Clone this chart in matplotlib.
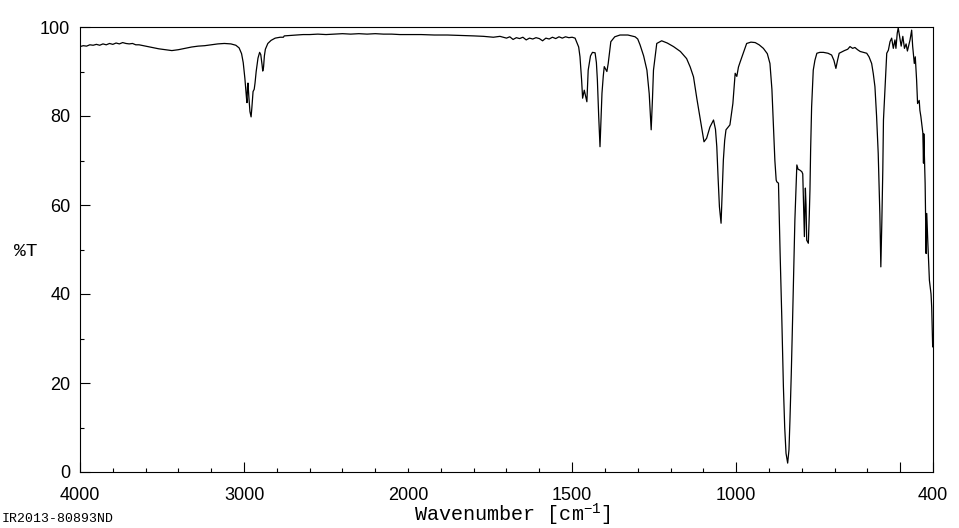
import numpy as np
from matplotlib import pyplot as plt

# IR spectrum, values
# 4000-2000 cm-1 part
wn_high = [
    4000, 3980, 3960, 3940, 3920, 3900, 3880, 3860, 3840, 3820,
    3800, 3780, 3760, 3740, 3720, 3700, 3680, 3660, 3640, 3600,
    3560, 3520, 3480, 3440, 3400, 3360, 3320, 3280, 3240, 3200,
    3160, 3120, 3080, 3050, 3030, 3015, 3005, 2995, 2985, 2982,
    2979, 2976, 2971, 2964, 2957, 2952, 2945, 2938, 2933, 2926,
    2915, 2905, 2898, 2890, 2886, 2881, 2876, 2870, 2855, 2835,
    2810, 2780, 2760, 2755, 2720, 2680, 2640, 2600, 2550, 2500,
    2450, 2400, 2350, 2300, 2250, 2200, 2150, 2100, 2050, 2000,
]
t_high = [
    95.6, 95.8, 95.7, 96.0, 95.9, 96.1, 95.9, 96.2, 96.0, 96.3,
    96.1, 96.4, 96.2, 96.5, 96.3, 96.2, 96.3, 96.0, 96.0, 95.7,
    95.4, 95.1, 94.9, 94.7, 94.9, 95.2, 95.5, 95.7, 95.8, 96.0,
    96.2, 96.3, 96.2, 95.9, 95.3, 94.0, 92.0, 88.5, 84.0, 83.0,
    86.5, 87.4, 84.5, 81.0, 79.8, 82.0, 85.5, 86.0, 87.4, 90.0,
    93.0, 94.3, 93.8, 91.5, 90.1, 91.0, 93.5, 95.0, 96.3, 97.0,
    97.5, 97.7, 97.7, 98.0, 98.1, 98.2, 98.3, 98.3, 98.4, 98.3,
    98.4, 98.5, 98.4, 98.5, 98.4, 98.5, 98.4, 98.4, 98.3, 98.3,
]

# 2000-400 cm-1 part
wn_low = [
    1960, 1920, 1880, 1840, 1800, 1770, 1740, 1720, 1700, 1690,
    1680, 1670, 1660, 1650, 1640, 1630, 1620, 1610, 1600, 1590,
    1580, 1570, 1560, 1550, 1540, 1530, 1520, 1510, 1500, 1491,
    1480, 1476, 1471, 1468, 1463, 1459, 1455, 1451, 1444, 1438,
    1430, 1426, 1423, 1419, 1415, 1412, 1409, 1405, 1402, 1394,
    1390, 1382, 1370, 1354, 1330, 1308, 1300, 1293, 1282, 1272,
    1265, 1259, 1255, 1252, 1242, 1227, 1210, 1191, 1170, 1151,
    1140, 1130, 1120, 1110, 1098, 1090, 1080, 1069, 1063, 1059,
    1055, 1051, 1046, 1042, 1039, 1035, 1031, 1019, 1010, 1003,
    998, 993, 988, 968, 955, 942, 930, 917, 905, 897,
    891, 887, 882, 878, 876, 871, 866, 861, 856, 852,
    848, 843, 839, 836, 832, 828, 821, 817, 815, 811,
    807, 800, 797, 794, 792, 789, 787, 785, 780, 777,
    775, 773, 770, 765, 760, 754, 745, 734, 720, 709,
    702, 696, 691, 686, 670, 660, 653, 645, 638, 630,
    622, 612, 602, 595, 587, 582, 577, 572, 567, 562,
    559, 556, 553, 551, 546, 541, 536, 531, 526, 521,
    516, 513, 509, 506, 501, 497, 492, 487, 482, 478,
    470, 465, 462, 457, 454, 450, 447, 442, 440, 437,
    431, 429, 428, 424, 421, 419, 416, 411, 406, 404,
    401, 400,
]
t_low = [
    98.3, 98.2, 98.2, 98.1, 98.0, 97.9, 97.7, 97.9, 97.5, 97.8,
    97.2, 97.6, 97.4, 97.7, 97.1, 97.5, 97.3, 97.6, 97.4, 96.9,
    97.5, 97.3, 97.7, 97.4, 97.8, 97.5, 97.8, 97.6, 97.7, 97.5,
    95.5, 93.3, 88.0, 84.0, 85.8, 84.5, 83.2, 90.3, 93.5, 94.3,
    94.2, 92.0, 88.1, 80.0, 73.1, 79.0, 85.1, 89.0, 91.1, 90.0,
    91.8, 96.7, 97.8, 98.2, 98.2, 97.8, 97.3, 96.0, 93.5, 90.3,
    85.0, 76.9, 84.0, 90.3, 96.3, 96.9, 96.4, 95.6, 94.5, 92.9,
    91.0, 88.8, 84.0, 79.6, 74.2, 75.0, 77.5, 79.1, 77.0, 73.1,
    66.0, 59.6, 55.9, 64.0, 70.1, 74.5, 76.9, 78.0, 82.8, 89.6,
    88.9, 91.0, 92.1, 96.3, 96.6, 96.5, 96.0, 95.2, 94.0, 91.8,
    86.0, 79.1, 70.0, 65.6, 65.2, 64.9, 49.1, 35.0, 19.2, 10.0,
    4.2, 2.0, 5.0, 11.7, 22.0, 34.2, 56.6, 65.0, 69.0, 68.0,
    67.9, 67.5, 67.0, 58.0, 52.9, 63.8, 60.0, 52.1, 51.4, 58.0,
    63.5, 72.4, 82.0, 90.3, 92.5, 94.1, 94.3, 94.3, 94.1, 93.7,
    92.5, 90.7, 92.5, 94.1, 94.7, 95.0, 95.6, 95.2, 95.4, 94.9,
    94.5, 94.3, 94.1, 93.3, 91.8, 89.5, 86.6, 80.0, 71.6, 58.0,
    46.1, 56.0, 67.9, 79.1, 86.6, 94.1, 94.8, 96.7, 97.5, 95.2,
    97.1, 95.2, 98.6, 99.8, 97.5, 95.7, 97.9, 95.2, 96.2, 94.6,
    97.1, 99.3, 95.7, 91.8, 93.3, 88.1, 82.8, 83.5, 81.3, 79.9,
    76.2, 69.4, 76.0, 64.9, 49.1, 58.1, 52.0, 43.1, 40.0, 37.1,
    28.1, 30.4,
]

x_labels = ['4000', '3000', '2000', '1500', '1000', '', '400']
x_major = [4000, 3000, 2000, 1500, 1000, 500, 400]
x_minor = [3800, 3600, 3400, 3200, 2800, 2600, 2400, 2200,
           1900, 1800, 1700, 1600, 1400, 1300, 1200, 1100,
           900, 800, 700, 600]


def fwd(w):
    # region above 2000 cm-1 is drawn at half scale
    w = np.asarray(w, dtype=float)
    return np.where(w >= 2000, w / 2.0 + 1000, w)


def inv(u):
    u = np.asarray(u, dtype=float)
    return np.where(u >= 2000, (u - 1000) * 2.0, u)


plt.rcParams['font.family'] = 'Liberation Sans'
plt.rcParams['mathtext.fontset'] = 'custom'
plt.rcParams['mathtext.rm'] = 'Liberation Mono'
plt.rcParams['mathtext.it'] = 'Liberation Mono'

fig = plt.figure(figsize=(9.59, 5.28), dpi=100)
ax = fig.add_axes([80 / 959, 56 / 528, 853 / 959, 445 / 528])

wn = np.array(wn_high + wn_low)
tr = np.array(t_high + t_low)
ax.plot(wn, tr, color='black', lw=0.9)

ax.set_xscale('function', functions=(fwd, inv))
ax.set_xlim(4000, 400)
ax.set_ylim(0, 100)

ax.set_xticks(x_major)
ax.set_xticklabels(x_labels)
ax.set_xticks(x_minor, minor=True)
ax.set_yticks(np.arange(0, 101, 20))
ax.set_yticks(np.arange(10, 100, 20), minor=True)

ax.tick_params(which='both', direction='in', top=False, right=False,
               width=0.8, labelsize=13)
ax.tick_params(which='major', length=7)
ax.tick_params(which='minor', length=3)
ax.tick_params(axis='x', which='major', pad=10.5)
ax.tick_params(axis='y', which='major', pad=7)

# 2000 only gets a short mark
ax.xaxis.get_major_ticks()[2].tick1line.set_markersize(3)

for s in ax.spines.values():
    s.set_linewidth(0.8)

fig.text(26 / 959, 1 - 252 / 528, '%T', family='Liberation Mono',
         fontsize=14, ha='center', va='center')
fig.text(512 / 959, 1 - 521.5 / 528, r'Wavenumber [cm$^{-1}$]',
         family='Liberation Mono', fontsize=14.5, ha='center', va='baseline')
fig.text(2 / 959, 1 - 519 / 528, 'IR2013-80893ND', family='Liberation Mono',
         fontsize=9.5, ha='left', va='center')

plt.savefig('out.png', dpi=100)
